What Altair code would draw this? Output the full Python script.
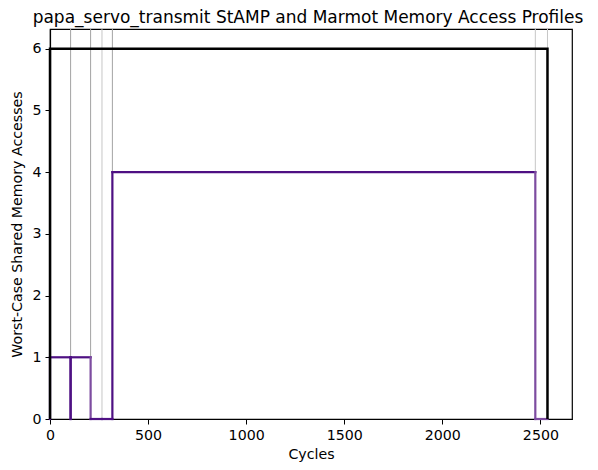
import altair as alt
import pandas as pd

# Gray marker lines (cycles)
marker_x = [105, 207, 265, 318, 2474, 2536]
marker_shade = ["dark", "dark", "light", "dark", "light", "light"]

# Black profile (step outline)
black_x = [0, 0, 2536, 2536]
black_y = [0, 6, 6, 0]

# Purple profile segments
seg_x = [0, 0, 105, 105, 105, 207, 207, 265, 318, 318, 2474, 2474]
seg_x2 = [0, 105, 105, 105, 207, 207, 265, 318, 318, 2474, 2474, 2536]
seg_y = [0, 1, 1, 0, 1, 1, 0, 0, 0, 4, 4, 0]
seg_y2 = [1, 1, 0, 1, 1, 0, 0, 0, 4, 4, 0, 0]
seg_shade = ["dark", "dark", "dark", "dark", "dark", "light", "dark", "dark", "dark", "dark", "light", "light"]

x_ticks = [0, 500, 1000, 1500, 2000, 2500]
y_ticks = [0, 1, 2, 3, 4, 5, 6]

markers = pd.DataFrame({"x": marker_x, "shade": marker_shade})
black = pd.DataFrame({"x": black_x, "y": black_y, "o": list(range(len(black_x)))})
segs = pd.DataFrame({"x": seg_x, "x2": seg_x2, "y": seg_y, "y2": seg_y2, "shade": seg_shade})

xscale = alt.Scale(domain=[0, 2661], nice=False, zero=False)
yscale = alt.Scale(domain=[0, 6.32], nice=False, zero=False)

xaxis = alt.Axis(title="Cycles", values=x_ticks, grid=False, format="d")
yaxis = alt.Axis(title="Worst-Case Shared Memory Accesses", values=y_ticks, grid=False, format="d")

gray = alt.Chart(markers).mark_rule(strokeWidth=1).encode(
    x=alt.X("x:Q", scale=xscale, axis=xaxis),
    color=alt.Color("shade:N", scale=alt.Scale(domain=["dark", "light"], range=["#a3a3a3", "#c6c6c6"]), legend=None),
)

purple = alt.Chart(segs).mark_rule(strokeWidth=2.2, strokeCap="square").encode(
    x=alt.X("x:Q", scale=xscale, axis=xaxis),
    x2="x2:Q",
    y=alt.Y("y:Q", scale=yscale, axis=yaxis),
    y2="y2:Q",
    color=alt.Color("shade:N", scale=alt.Scale(domain=["dark", "light"], range=["#4e1083", "#7d4ca0"]), legend=None),
)

blk = alt.Chart(black).mark_line(color="black", strokeWidth=2.5, strokeJoin="miter").encode(
    x=alt.X("x:Q", scale=xscale, axis=xaxis),
    y=alt.Y("y:Q", scale=yscale, axis=yaxis),
    order="o:Q",
)

chart = alt.layer(gray, purple, blk).resolve_scale(color="independent").properties(
    width=522,
    height=390,
    padding={"left": 42, "top": 21, "right": 18, "bottom": 43},
    autosize=alt.AutoSizeParams(type="none"),
    title=alt.TitleParams(
        "papa_servo_transmit StAMP and Marmot Memory Access Profiles",
        font="DejaVu Sans", fontSize=17, fontWeight="normal", color="black",
        anchor="middle", frame="group", offset=1.5, dx=-3,
    ),
).configure_view(
    stroke="black", strokeWidth=1.2
).configure_axis(
    labelFont="DejaVu Sans", labelFontSize=14.2, labelColor="black",
    titleFont="DejaVu Sans", titleFontSize=14.2, titleFontWeight="normal", titleColor="black",
    tickColor="black", tickSize=5, tickWidth=1, domainColor="black", domainWidth=1.2,
    labelPadding=4, labelFlush=False,
).configure_axisX(titlePadding=5).configure_axisY(titlePadding=7)

chart.save("out.html", embed_options={"renderer": "svg", "actions": False})
